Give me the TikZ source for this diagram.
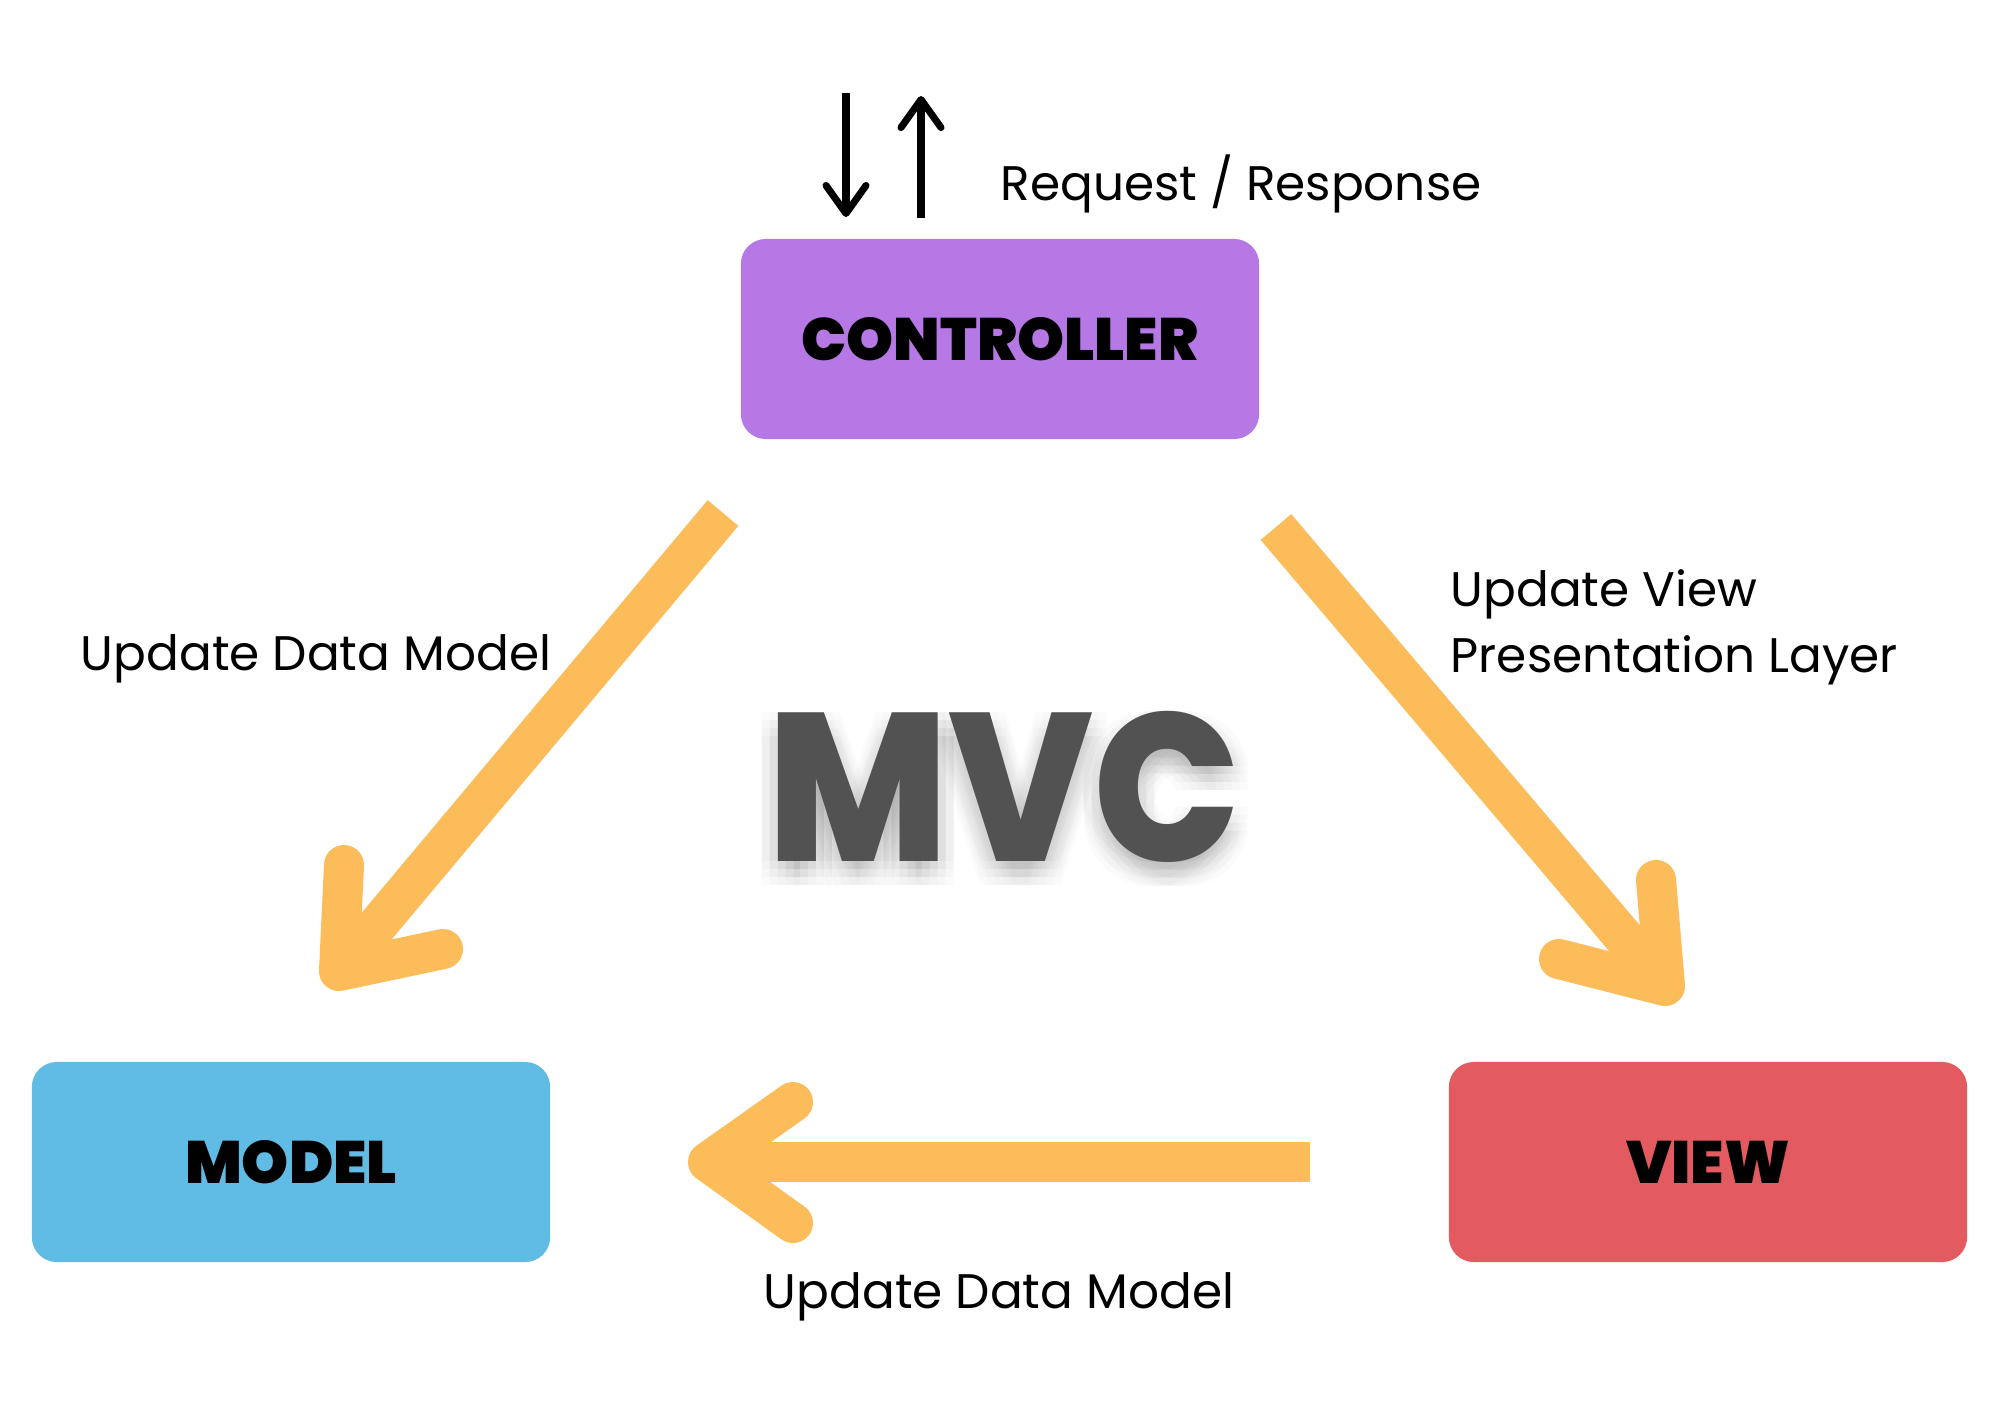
\documentclass[tikz,border=0pt]{standalone}
\usepackage{fontspec}
\setmainfont{Poppins}
\newfontfamily\heavyfont{Poppins Black}
\newfontfamily\mvcfont{Poppins ExtraBold}
\usetikzlibrary{arrows.meta}
\definecolor{ctrlpurple}{HTML}{B678E5}
\definecolor{modelblue}{HTML}{61BCE5}
\definecolor{viewred}{HTML}{E35B60}
\definecolor{flowyellow}{HTML}{FDBC5A}
\definecolor{mvcgray}{HTML}{525252}
\tikzset{
  box/.style={rectangle, rounded corners=0.25cm, minimum width=5.18cm, minimum height=2.0cm, font=\heavyfont\fontsize{17}{20}\selectfont},
  shaft/.style={line width=0.4cm, color=flowyellow, line cap=butt},
  head/.style={line width=0.4cm, color=flowyellow, line cap=round, line join=round},
  label/.style={font=\fontsize{13.8}{18.8}\selectfont},
  reqarrow/.style={line width=2pt, -{Straight Barb[round, length=2.8mm, width=4mm]}},
  mvctext/.style={font=\mvcfont\fontsize{60}{60}\selectfont, xscale=0.92}
}
\begin{document}
\begin{tikzpicture}
[x=0.01cm, y=-0.01cm, every node/.style={inner sep=0pt}]
\useasboundingbox [fill=white] (0,0) rectangle (2000,1414);
% boxes
\node (controller) [box, fill=ctrlpurple] at (1000,339) {CONTROLLER};
\node (model) [box, fill=modelblue] at (291,1162) {MODEL};
\node (view) [box, fill=viewred] at (1708,1162) {VIEW};
% request / response
\coordinate (reqtop) at (846,93);
\coordinate (reqbot) at (846,217);
\coordinate (resbot) at (921,218);
\coordinate (restop) at (921,96);
\draw [reqarrow] (reqtop) to (reqbot);
\draw [reqarrow] (resbot) to (restop);
\node (reqlabel) [label] at (1241,184) {Request / Response};
% controller -> model
\coordinate (cm start) at (723,513);
\coordinate (cm tip) at (339,971);
\coordinate (cm arm1) at (344,865);
\coordinate (cm arm2) at (443,949);
\draw [shaft] (cm start) -- (cm tip);
\draw [head] (cm arm1) -- (cm tip) -- (cm arm2);
\node (cmlabel) [label] at (316,659) {Update Data Model};
% controller -> view
\coordinate (cv start) at (1276,527);
\coordinate (cv tip) at (1665,986);
\coordinate (cv arm1) at (1656,880);
\coordinate (cv arm2) at (1559,959);
\draw [shaft] (cv start) -- (cv tip);
\draw [head] (cv arm1) -- (cv tip) -- (cv arm2);
\node (cvlabel) [label, align=left, anchor=west] at (1450,627) {Update View\\Presentation Layer};
% view -> model
\coordinate (vm start) at (1310,1162);
\coordinate (vm tip) at (708,1162);
\coordinate (vm arm1) at (793,1102);
\coordinate (vm arm2) at (793,1223);
\draw [shaft] (vm start) -- (vm tip);
\draw [head] (vm arm1) -- (vm tip) -- (vm arm2);
\node (vmlabel) [label] at (999,1297) {Update Data Model};
% MVC with soft shadow
\foreach \dx in {-16,-8,0,8,16}
  \foreach \dy in {0,8,16,24}
    \node (mvcshadow) [mvctext, text=black, opacity=0.014] at ([shift={(\dx,\dy)}]1004,787) {MVC};
\node (mvc) [mvctext, text=mvcgray] at (1004,787) {MVC};
\end{tikzpicture}
\end{document}
